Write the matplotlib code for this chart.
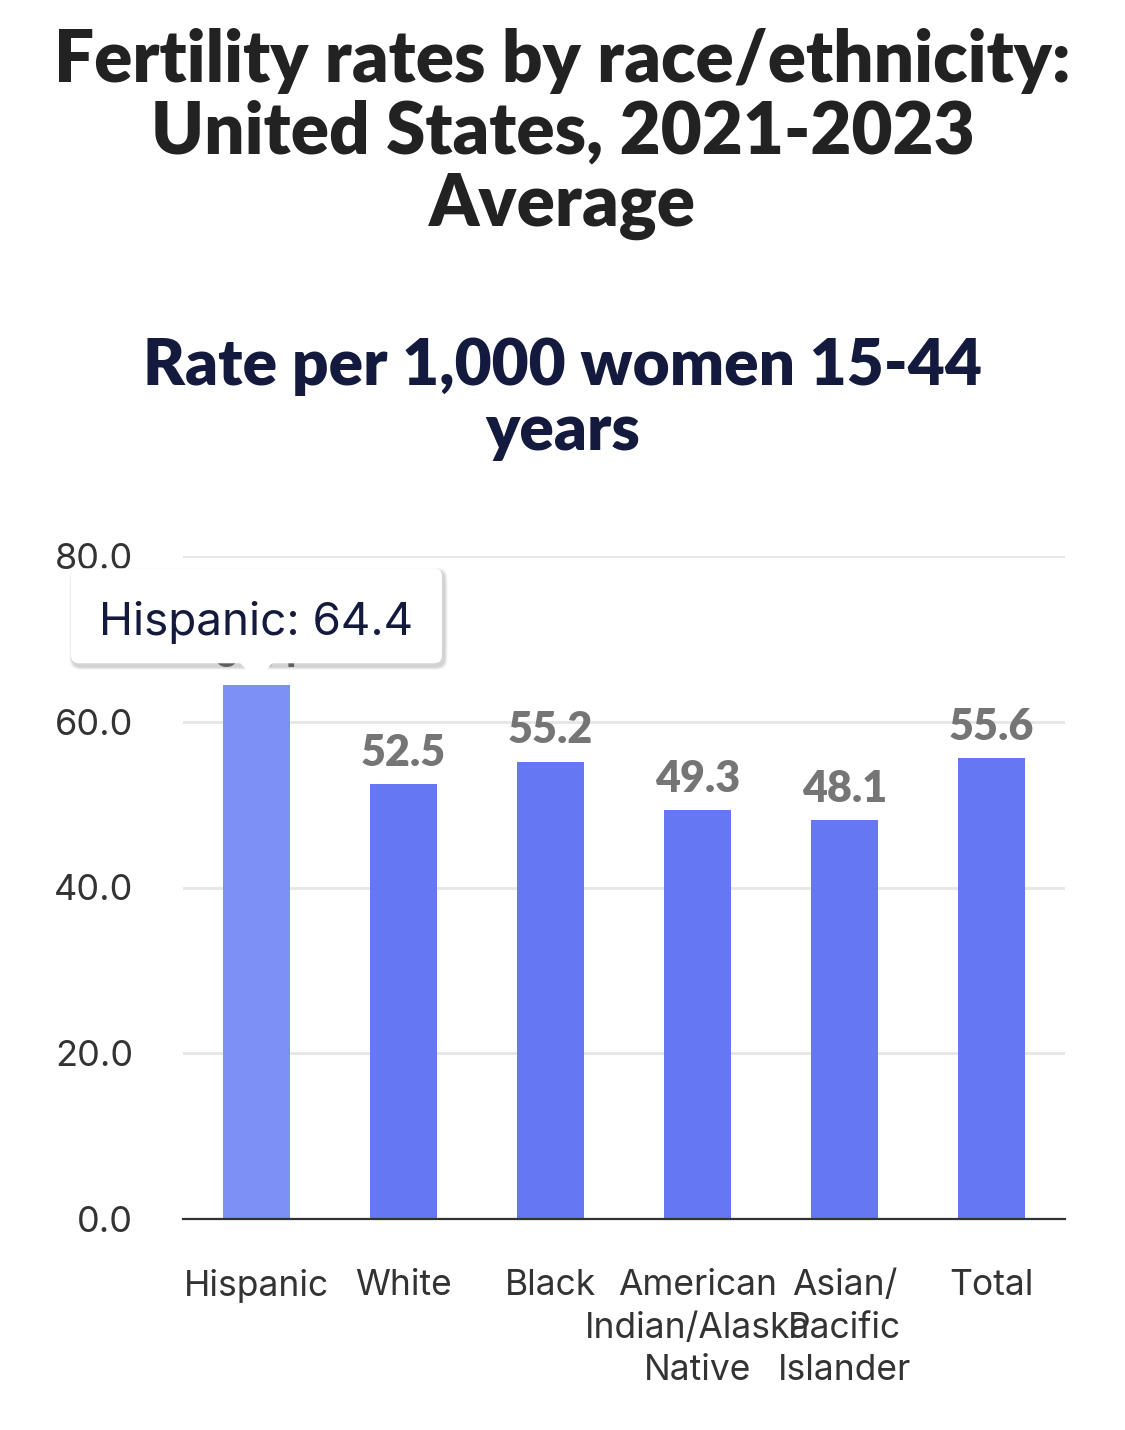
import matplotlib
matplotlib.use("Agg")
import matplotlib.pyplot as plt
from matplotlib.patches import FancyBboxPatch, Polygon
from matplotlib.transforms import IdentityTransform

categories = ["Hispanic", "White", "Black", "American\nIndian/Alaska\nNative", "Asian/\nPacific\nIslander", "Total"]
values = [64.4, 52.5, 55.2, 49.3, 48.1, 55.6]
yticks = [0, 20, 40, 60, 80]
title = "Fertility rates by race/ethnicity:\nUnited States, 2021-2023\nAverage"
subtitle = "Rate per 1,000 women 15-44\nyears"
tooltip_label = "Hispanic"

W, H = 1125, 1430
fig = plt.figure(figsize=(W / 100, H / 100), dpi=100)
fig.patch.set_facecolor("white")
ax = fig.add_axes([183 / W, 1 - 1219 / H, (1065 - 183) / W, (1219 - 556) / H])

bar_color = "#6677F4"
hover_color = "#7D90F6"
colors = [hover_color if c == tooltip_label else bar_color for c in categories]
x = list(range(len(categories)))
ax.bar(x, values, width=0.46, color=colors, zorder=3, linewidth=0)

ax.set_xlim(-0.5, len(categories) - 0.5)
ax.set_ylim(0, 80)
ax.set_yticks(yticks)
ax.set_yticklabels([f"{v:.1f}" for v in yticks], fontsize=26, color="#333333", family="Inter")
ax.set_xticks(x)
ax.set_xticklabels(categories, fontsize=25.5, color="#333333", family="Inter", linespacing=1.37, va="top")
ax.tick_params(axis="y", length=0, pad=36)
ax.tick_params(axis="x", length=0, pad=36)
ax.grid(axis="y", color="#e6e6e6", linewidth=2, zorder=0)
for s in ["top", "right", "left"]:
    ax.spines[s].set_visible(False)
ax.spines["bottom"].set_color("#333333")
ax.spines["bottom"].set_linewidth(1.6)
ax.spines["bottom"].set_zorder(4)

for xi, v in zip(x, values):
    ax.annotate(f"{v:.1f}", xy=(xi, v), xytext=(0, 8), textcoords="offset points",
                ha="center", va="bottom", fontsize=31, fontweight="heavy", color="#757575",
                family="Lato", zorder=5)

fig.text(0.5, 1 - 134 / H, title, ha="center", va="center", fontsize=51, fontweight="heavy",
         family="Lato", color="#222222", linespacing=1.1)
fig.text(0.5, 1 - 399 / H, subtitle, ha="center", va="center", fontsize=46, fontweight="heavy",
         family="Lato", color="#141a3d", linespacing=1.12)

# tooltip
fig.canvas.draw()
idx = categories.index(tooltip_label)
px, py = ax.transData.transform((x[idx], values[idx]))
bw, bh = 371, 95
tip_gap = 4
ptr_h = 18
box_bottom = py + tip_gap + ptr_h
box_left = px - bw / 2
for k, a in [(7, 0.04), (5, 0.06), (3, 0.08)]:
    shadow = FancyBboxPatch((box_left + 2 - k / 2, box_bottom - 3 - k / 2), bw + k, bh + k,
                            boxstyle="round,pad=0,rounding_size=10",
                            transform=IdentityTransform(), fc="#000000", ec="none", alpha=a, zorder=9)
    fig.patches.append(shadow)
box = FancyBboxPatch((box_left, box_bottom), bw, bh, boxstyle="round,pad=0,rounding_size=8",
                     transform=IdentityTransform(), fc="white", ec="none", zorder=10)
fig.patches.append(box)
tri = Polygon([(px - 17, box_bottom + 1), (px + 17, box_bottom + 1), (px, py + tip_gap)], closed=True,
              transform=IdentityTransform(), fc="white", ec="none", zorder=11)
fig.patches.append(tri)
fig.text((box_left + bw / 2) / W, (box_bottom + bh / 2 - 7) / H, f"{tooltip_label}: {values[idx]:.1f}",
         ha="center", va="center", fontsize=33, color="#141a3d", family="Inter", zorder=12)

fig.savefig("out.png", dpi=100)
